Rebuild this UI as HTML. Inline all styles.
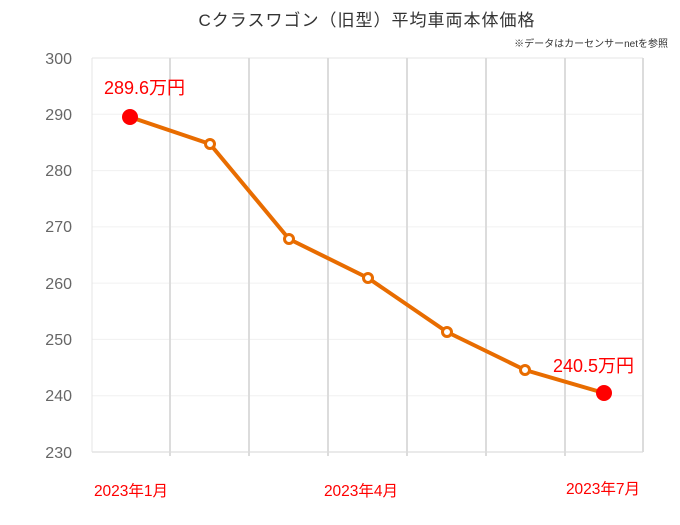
<!DOCTYPE html><html><head><meta charset="utf-8"><style>body{margin:0;background:#fff}</style></head><body>
<svg width="680" height="520" xmlns="http://www.w3.org/2000/svg" font-family="Liberation Sans, Noto Sans CJK JP, sans-serif">
<rect width="680" height="520" fill="#fff"/>
<text x="367" y="26" font-size="17" text-anchor="middle" fill="#333" letter-spacing="1">Cクラスワゴン（旧型）平均車両本体価格</text>
<text x="668" y="47" font-size="10" text-anchor="end" fill="#333">※データはカーセンサーnetを参照</text>
<g stroke="#f0f0f0" stroke-width="1">
<line x1="92" x2="643" y1="114.3" y2="114.3"/><line x1="92" x2="643" y1="170.6" y2="170.6"/><line x1="92" x2="643" y1="226.9" y2="226.9"/><line x1="92" x2="643" y1="283.1" y2="283.1"/><line x1="92" x2="643" y1="339.4" y2="339.4"/><line x1="92" x2="643" y1="395.7" y2="395.7"/>
</g>
<line x1="92" x2="643" y1="58" y2="58" stroke="#e4e4e4"/>
<line x1="92" x2="643" y1="452" y2="452" stroke="#e4e4e4" stroke-width="1.5"/>
<line x1="92" x2="92" y1="58" y2="452" stroke="#e4e4e4"/>
<g stroke="#dcdcdc" stroke-width="2">
<line x1="170" x2="170" y1="58" y2="456"/><line x1="249" x2="249" y1="58" y2="456"/><line x1="328" x2="328" y1="58" y2="456"/><line x1="407" x2="407" y1="58" y2="456"/><line x1="486" x2="486" y1="58" y2="456"/><line x1="565" x2="565" y1="58" y2="456"/><line x1="643" x2="643" y1="58" y2="452"/>
</g>
<g font-size="16" fill="#666" text-anchor="end">
<text x="72" y="64">300</text><text x="72" y="120">290</text><text x="72" y="176">280</text><text x="72" y="232">270</text><text x="72" y="289">260</text><text x="72" y="345">250</text><text x="72" y="401">240</text><text x="72" y="458">230</text>
</g>
<polyline points="130,117 210,144 289,239 368,278 447,332 525,370 604,393" fill="none" stroke="#e86c00" stroke-width="4" stroke-linejoin="round"/>
<g fill="#fff" stroke="#e86c00" stroke-width="3">
<circle cx="210" cy="144" r="4.5"/><circle cx="289" cy="239" r="4.5"/><circle cx="368" cy="278" r="4.5"/><circle cx="447" cy="332" r="4.5"/><circle cx="525" cy="370" r="4.5"/>
</g>
<circle cx="130" cy="117" r="8" fill="#f00"/><circle cx="604" cy="393" r="8" fill="#f00"/>
<g fill="#f00">
<text x="104" y="94" font-size="18">289.6万円</text>
<text x="553" y="372" font-size="18">240.5万円</text>
<text x="131" y="496" font-size="15.5" text-anchor="middle">2023年1月</text>
<text x="361" y="496" font-size="15.5" text-anchor="middle">2023年4月</text>
<text x="603" y="494" font-size="15.5" text-anchor="middle">2023年7月</text>
</g>
</svg></body></html>
